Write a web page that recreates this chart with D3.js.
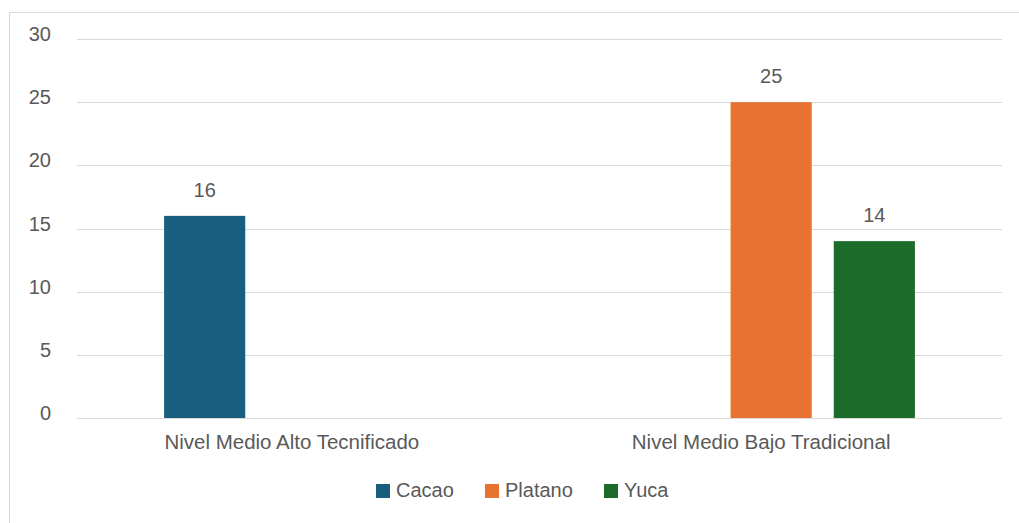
<!DOCTYPE html>
<html>
<head>
<meta charset="utf-8">
<script src="https://cdn.jsdelivr.net/npm/d3@7"></script>
<style>
	body { margin: 0; background: #fff; }
	text { font-family: "Liberation Sans", Arial, sans-serif; fill: #595959; }
</style>
</head>
<body>
<div id="chart"></div>
<script>

const categories = [ "Nivel Medio Alto Tecnificado", "Nivel Medio Bajo Tradicional" ] ;
const seriesNames = [ "Cacao", "Platano", "Yuca" ] ;
const cacao = [ 16, null ] ;
const platano = [ null, 25 ] ;
const yuca = [ null, 14 ] ;
const yTicks = [ 0, 5, 10, 15, 20, 25, 30 ] ;
const colors = [ "#175e7f", "#e87331", "#1d6b2a" ] ;

const width = 1019 ;
const height = 523 ;

const seriesValues = [ cacao, platano, yuca ] ;
const rows = [] ;
categories.forEach( function(c, i) {
	seriesNames.forEach( function(s, j) {
		if( seriesValues[j][i] !== null ) {
			rows.push( { cat: c, series: s, value: seriesValues[j][i], color: colors[j] } ) ;
		}
	}) ;
}) ;

const svg = d3.select( "#chart" ).append( "svg" )
	.attr( "width", width )
	.attr( "height", height ) ;

// frame
svg.append( "path" )
	.attr( "d", "M9.5," + height + "V12.5H" + width )
	.attr( "fill", "none" )
	.attr( "stroke", "#d9d9d9" )
	.attr( "stroke-width", 1 ) ;

const x0 = d3.scaleBand()
	.domain( categories )
	.range( [ 77, 1002 ] )
	.paddingInner( 0.3795 )
	.paddingOuter( 0.188 ) ;

const x1 = d3.scaleBand()
	.domain( seriesNames )
	.range( [ 0, x0.bandwidth() ] )
	.paddingInner( 0.2136 ) ;

const y = d3.scaleLinear()
	.domain( [ 0, 30 ] )
	.range( [ 418, 39 ] ) ;

// gridlines
svg.append( "g" )
	.selectAll( "line" )
	.data( yTicks )
	.enter()
		.append( "line" )
			.attr( "x1", 77 )
			.attr( "x2", 1002 )
			.attr( "y1", function(d) { return Math.round( y(d) ) + 0.5 } )
			.attr( "y2", function(d) { return Math.round( y(d) ) + 0.5 } )
			.attr( "stroke", "#d9d9d9" )
			.attr( "stroke-width", 1.2 ) ;

// y tick labels
svg.append( "g" )
	.selectAll( "text" )
	.data( yTicks )
	.enter()
		.append( "text" )
			.attr( "x", 51 )
			.attr( "y", function(d) { return y(d) + 2 } )
			.attr( "text-anchor", "end" )
			.style( "font-size", "20px" )
			.text( function(d) { return d } ) ;

// bars
svg.append( "g" )
	.selectAll( "rect" )
	.data( rows )
	.enter()
		.append( "rect" )
			.attr( "x", function(d) { return x0( d.cat ) + x1( d.series ) } )
			.attr( "y", function(d) { return y( d.value ) } )
			.attr( "width", x1.bandwidth() )
			.attr( "height", function(d) { return y(0) - y( d.value ) } )
			.attr( "fill", function(d) { return d.color } ) ;

// value labels
svg.append( "g" )
	.selectAll( "text" )
	.data( rows )
	.enter()
		.append( "text" )
			.attr( "x", function(d) { return x0( d.cat ) + x1( d.series ) + x1.bandwidth() / 2 } )
			.attr( "y", function(d) { return y( d.value ) - 19 } )
			.attr( "text-anchor", "middle" )
			.style( "font-size", "20px" )
			.text( function(d) { return d.value } ) ;

// category labels
svg.append( "g" )
	.selectAll( "text" )
	.data( categories )
	.enter()
		.append( "text" )
			.attr( "x", function(d, i) { return x0(d) + x0.bandwidth() / 2 + ( i === 0 ? -16 : -10 ) } )
			.attr( "y", 449 )
			.attr( "text-anchor", "middle" )
			.style( "font-size", "20.5px" )
			.text( function(d) { return d } ) ;

// legend
const legendX = [ 376, 485, 604 ] ;
const legend = svg.append( "g" )
	.selectAll( "g" )
	.data( seriesNames )
	.enter()
		.append( "g" )
			.attr( "transform", function(d, i) { return "translate(" + legendX[i] + ",484)" } ) ;

legend.append( "rect" )
	.attr( "width", 14 )
	.attr( "height", 14 )
	.attr( "fill", function(d, i) { return colors[i] } ) ;

legend.append( "text" )
	.attr( "x", 20 )
	.attr( "y", 13 )
	.style( "font-size", "20px" )
	.text( function(d) { return d } ) ;

</script>
</body>
</html>
